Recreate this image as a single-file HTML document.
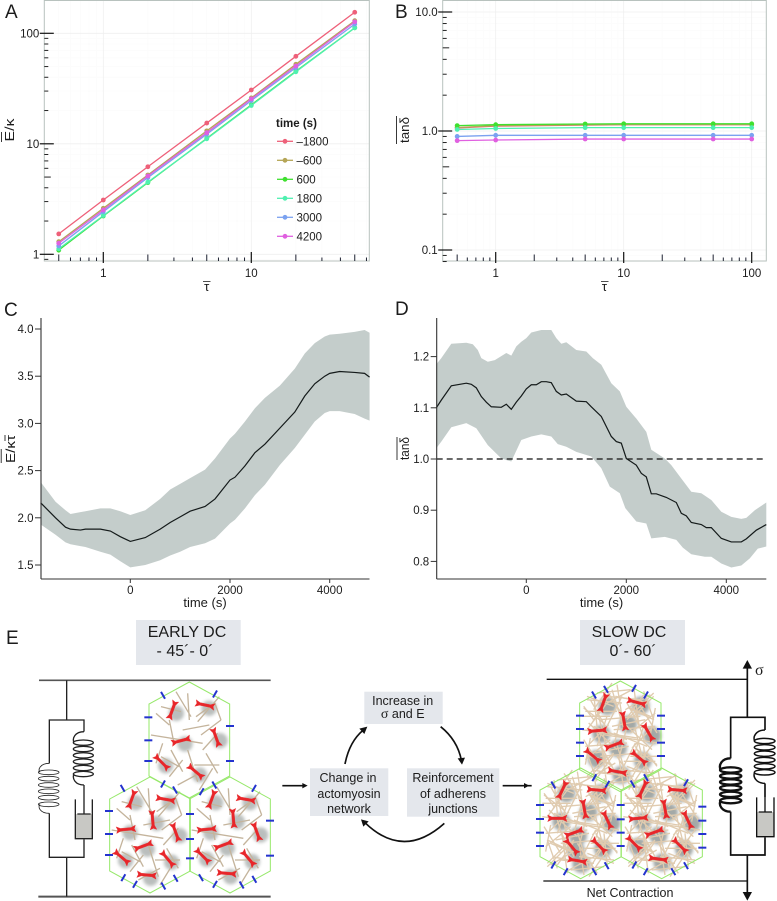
<!DOCTYPE html>
<html lang="en">
<head>
<meta charset="utf-8">
<title>Tissue mechanics figure</title>
<style>
html,body{margin:0;padding:0;background:#fff;}
svg{display:block;font-family:"Liberation Sans",sans-serif;}
text{fill:#1c1c1c;}
</style>
</head>
<body>
<svg id="figure" xmlns="http://www.w3.org/2000/svg" width="777" height="901" viewBox="0 0 777 901">
<defs>
<filter id="blur" x="-60%" y="-60%" width="220%" height="220%"><feGaussianBlur stdDeviation="5"/></filter>
<path id="early-filaments" fill="none" stroke="#c4b49c" stroke-width="4" d="M-85-100L-25-85M-40-145L5-70M-5-140L0-60M20-70L75-110M25-55L90-130M75-115L95-60M-115-15L40 10M-60-60L-45 15M-20-30L60-45M35-15L95-60M40 30L85-20M-55 30L-20 95M-85 50L-30 80M-20 60L-60 110M15 75L90 75M50 40L85 100M-35 135L30 100M-5 30L25 125M70 85L30 150M-100-80L-60-45M-80 10L-100 70"/>
<path id="slow-filaments" fill="none" stroke="#e0cbaf" stroke-width="4" d="M-100-120L-20-90M-50-150L10-60M-10-155L5-60M15-80L90-125M20-50L100-130M70-135L100-50M-115-20L50 5M-70-80L-45 20M-25-30L75-50M30-10L105-70M35 35L95-25M-60 25L-20 100M-100 50L-25 85M-20 55L-70 125M10 75L105 75M45 30L90 110M-45 145L40 100M-10 25L25 140M80 80L25 160M-110-85L-50-40M-90 5L-105 85M-80-130L-70-30M-115-60L-30-60M-40-120L60-110M40-150L55-40M-20-10L80 30M-105 30L20 20M-60 60L60 50M-30 140L70 130M-85 100L15 120M60-90L110-10M-95-40L-10 40M5-120L-45-20M70-30L40 60M100 20L40 100M-30 85L-90 60M-5 100L100 110M-70-10L-40 90M20-30L-5 70M80 50L110 90M-100 120L-40 60M30 130L85 40"/>
<path id="myosin" fill="#e8262a" stroke="#e8262a" stroke-width="1" stroke-linejoin="round" d="M-29-10L-16-4L16-4L29-10L25 0L29 10L16 4L-16 4L-29 10L-25 0Z"/>
</defs>

<rect x="0" y="0" width="777" height="901" fill="#fff"/>

<g id="layer-charts"></g>

<!-- panel letters -->
<g font-size="19">
<text x="5" y="18">A</text>
<text x="395" y="18">B</text>
<text x="4" y="316">C</text>
<text x="395" y="315">D</text>
<text x="6" y="644">E</text>
</g>

<!-- axis titles -->
<g font-size="13">
<text x="206.7" y="291" text-anchor="middle">τ</text>
<line x1="203" x2="210.5" y1="281.5" y2="281.5" stroke="#222" stroke-width=".8"/>
<text x="604.5" y="291" text-anchor="middle">τ</text>
<line x1="601" x2="608.5" y1="281.5" y2="281.5" stroke="#222" stroke-width=".8"/>
<text transform="translate(14,130) rotate(-90)" text-anchor="middle" textLength="23" lengthAdjust="spacingAndGlyphs">E/κ</text>
<line x1="1.5" x2="1.5" y1="132" y2="142" stroke="#222" stroke-width=".9"/>
<text transform="translate(409,130) rotate(-90)" text-anchor="middle" textLength="26" lengthAdjust="spacingAndGlyphs">tanδ</text>
<line x1="396.5" x2="396.5" y1="116" y2="144" stroke="#222" stroke-width=".9"/>
<text transform="translate(15,449) rotate(-90)" text-anchor="middle" textLength="28" lengthAdjust="spacingAndGlyphs">E/κτ</text>
<line x1="1.2" x2="1.2" y1="449" y2="463" stroke="#222" stroke-width=".9"/>
<line x1="5" x2="5" y1="435" y2="441" stroke="#222" stroke-width=".9"/>
<text transform="translate(409,448.5) rotate(-90)" text-anchor="middle" textLength="23" lengthAdjust="spacingAndGlyphs">tanδ</text>
<line x1="397" x2="397" y1="437" y2="460" stroke="#222" stroke-width=".9"/>
<text x="205" y="607" text-anchor="middle">time (s)</text>
<text x="601.5" y="607" text-anchor="middle">time (s)</text>
</g>

<!-- panel E labels and boxes -->
<g>
<rect x="136" y="620" width="104.7" height="45" fill="#e4e7ec"/>
<text x="187" y="637" font-size="16" text-anchor="middle">EARLY DC</text>
<text x="185" y="656" font-size="16" text-anchor="middle">- 45´- 0´</text>
<rect x="580" y="620" width="105" height="45" fill="#e4e7ec"/>
<text x="629" y="637" font-size="16" text-anchor="middle">SLOW DC</text>
<text x="633" y="656" font-size="16" text-anchor="middle">0´- 60´</text>

<rect x="364.3" y="691.7" width="78.4" height="32.3" fill="#e4e7ec"/>
<text x="402.7" y="705" font-size="12.5" text-anchor="middle">Increase in</text>
<text x="402.7" y="718" font-size="12.5" text-anchor="middle"><tspan font-family="Liberation Serif" font-size="14">σ</tspan> and E</text>
<rect x="310" y="768.3" width="78.3" height="47.7" fill="#e4e7ec"/>
<text x="348" y="782" font-size="12.5" text-anchor="middle">Change in</text>
<text x="349" y="798" font-size="12.5" text-anchor="middle">actomyosin</text>
<text x="349" y="813" font-size="12.5" text-anchor="middle">network</text>
<rect x="407" y="768.3" width="92.3" height="48.4" fill="#e4e7ec"/>
<text x="453" y="782" font-size="12.5" text-anchor="middle">Reinforcement</text>
<text x="453" y="798" font-size="12.5" text-anchor="middle">of adherens</text>
<text x="453" y="813" font-size="12.5" text-anchor="middle">junctions</text>

<text x="630" y="897" font-size="12.5" text-anchor="middle">Net Contraction</text>
<text x="755" y="675" font-size="16" font-family="Liberation Serif" text-anchor="start">σ</text>
</g>

<!-- cycle arrows -->
<g transform="translate(270,660) scale(.33333)" fill="none" stroke="#111" stroke-width="5">
<path d="M225 312Q238 245 280 210"/>
<path fill="#111" stroke="none" d="M292 200L283 222L268 206Z"/>
<path d="M512 200Q562 240 574 300"/>
<path fill="#111" stroke="none" d="M576 314L563 295L585 293Z"/>
<path d="M523 490Q400 600 285 488"/>
<path fill="#111" stroke="none" d="M273 478L296 484L280 500Z"/>
<path d="M37 377L100 377"/>
<path fill="#111" stroke="none" d="M113 377L97 369L97 385Z"/>
<path d="M698 377L785 377"/>
<path fill="#111" stroke="none" d="M778 377L762 369L762 385Z"/>
</g>

<!-- left mechanical model -->
<g transform="translate(0,610) scale(.33333)" fill="none" stroke="#222" stroke-width="4">
<path stroke="#555" stroke-width="5" d="M117 211L812 211"/>
<path stroke="#555" stroke-width="6" d="M115 860L812 860"/>
<path d="M200 211L200 330M148 460L148 330L252 330L252 365M148 610L148 742L252 742L252 688M200 742L200 860M252 525L252 570"/>
<g stroke-width="2.5">
<path d="M148 460C120 460 112 480 120 487M148 610C120 610 112 590 120 583"/>
<ellipse cx="146" cy="487" rx="31" ry="7"/>
<ellipse cx="146" cy="506" rx="31" ry="7"/>
<ellipse cx="146" cy="525" rx="31" ry="7"/>
<ellipse cx="146" cy="544" rx="31" ry="7"/>
<ellipse cx="146" cy="563" rx="31" ry="7"/>
<ellipse cx="146" cy="583" rx="31" ry="7"/>
</g>
<g stroke-width="4">
<path d="M252 365C225 365 216 385 222 398M252 525C225 525 216 505 222 492"/>
<ellipse cx="250" cy="398" rx="30" ry="8"/>
<ellipse cx="250" cy="417" rx="30" ry="8"/>
<ellipse cx="250" cy="436" rx="30" ry="8"/>
<ellipse cx="250" cy="455" rx="30" ry="8"/>
<ellipse cx="250" cy="474" rx="30" ry="8"/>
<ellipse cx="250" cy="492" rx="30" ry="8"/>
</g>
<g>
<rect x="226" y="612" width="51" height="74" fill="#c8c8c4" stroke="none"/>
<path d="M226 568L226 686L277 686L277 568M252 570L252 612M232 612L272 612"/>
</g>
</g>

<!-- right mechanical model -->
<g transform="translate(500,610) scale(.33333)" fill="none" stroke="#111" stroke-width="4">
<path stroke-width="4" d="M140 208L742 208"/>
<path stroke="#555" stroke-width="5" d="M130 813L742 813"/>
<path stroke-width="5" d="M742 165L742 322M692 445L692 322L795 322L795 360M692 605L692 735L795 735L795 682M742 735L742 850M795 520L795 562"/>
<path fill="#111" stroke="none" d="M742 150L728 176L756 176Z"/>
<path fill="#111" stroke="none" d="M742 872L728 846L756 846Z"/>
<g stroke-width="7">
<path d="M692 445C665 445 655 465 662 480M692 605C665 605 655 585 662 572"/>
<ellipse cx="692" cy="480" rx="32" ry="8"/>
<ellipse cx="692" cy="498" rx="32" ry="8"/>
<ellipse cx="692" cy="516" rx="32" ry="8"/>
<ellipse cx="692" cy="534" rx="32" ry="8"/>
<ellipse cx="692" cy="553" rx="32" ry="8"/>
<ellipse cx="692" cy="572" rx="32" ry="8"/>
</g>
<g stroke-width="4.5">
<path d="M795 360C768 360 758 380 764 393M795 520C768 520 758 500 764 487"/>
<ellipse cx="794" cy="393" rx="31" ry="8"/>
<ellipse cx="794" cy="412" rx="31" ry="8"/>
<ellipse cx="794" cy="431" rx="31" ry="8"/>
<ellipse cx="794" cy="450" rx="31" ry="8"/>
<ellipse cx="794" cy="469" rx="31" ry="8"/>
<ellipse cx="794" cy="487" rx="31" ry="8"/>
</g>
<g>
<rect x="770" y="606" width="52" height="74" fill="#c8c8c4" stroke="none"/>
<path d="M770 562L770 680L822 680L822 562M795 562L795 606M776 606L816 606"/>
</g>
</g>

<g id="early-cells" transform="translate(0,610) scale(.33333)"></g>
<g id="slow-cells" transform="translate(500,610) scale(.33333)"></g>
</svg>

<script>
// ---------- Panel A data ----------
const tauA = [0.5, 1, 2, 5, 10, 20, 50];
const modulusM1800 = [1.53, 3.1, 6.2, 15.4, 30.7, 61.9, 155];
const modulusM600 = [1.30, 2.61, 5.22, 13.1, 26, 52.4, 130];
const modulus600 = [1.09, 2.22, 4.45, 11.2, 22.5, 45.3, 112];
const modulus1800 = [1.12, 2.24, 4.5, 11.1, 22.2, 44.8, 112];
const modulus3000 = [1.19, 2.43, 4.94, 12.2, 24.6, 48.9, 121];
const modulus4200 = [1.26, 2.52, 5.11, 12.6, 25.5, 50.6, 127];

// ---------- Panel B data ----------
const tauB = [0.5, 1, 5, 10, 50, 100];
const tanM1800 = [1.06, 1.10, 1.12, 1.13, 1.13, 1.13];
const tanM600 = [1.07, 1.11, 1.13, 1.135, 1.135, 1.135];
const tan600 = [1.11, 1.13, 1.145, 1.15, 1.15, 1.15];
const tan1800 = [1.03, 1.05, 1.067, 1.067, 1.067, 1.067];
const tan3000 = [0.90, 0.92, 0.92, 0.92, 0.92, 0.92];
const tan4200 = [0.83, 0.84, 0.856, 0.856, 0.856, 0.856];

const seriesLabels = ['–1800', '–600', '600', '1800', '3000', '4200'];
const seriesColors = ['#ee6079', '#b5a556', '#3fe02f', '#4ff0b0', '#7ba2f0', '#e060e0'];

// ---------- Tick labels ----------
const ticksAX = [1, 10];
const ticksAY = [1, 10, 100];
const ticksBX = [1, 10, 100];
const ticksBY = [0.1, 1, 10];
const ticksTime = [0, 2000, 4000];
const ticksCY = [1.5, 2, 2.5, 3, 3.5, 4];
const ticksDY = [0.8, 0.9, 1, 1.1, 1.2];

// ---------- Panel C data ----------
const timeC = [-1800,-1500,-1300,-1200,-1000,-900,-600,-400,-200,0,300,600,800,1000,1200,1500,1700,2000,2100,2300,2500,2700,3000,3300,3500,3700,3900,4000,4200,4500,4700,4800];
const meanC = [2.16,2.00,1.90,1.88,1.87,1.88,1.88,1.86,1.80,1.75,1.79,1.88,1.95,2.01,2.07,2.12,2.20,2.40,2.43,2.55,2.69,2.78,2.95,3.12,3.29,3.42,3.50,3.53,3.55,3.54,3.53,3.49];
const upperC = [2.38,2.17,2.08,2.04,2.06,2.07,2.10,2.10,2.07,2.03,2.08,2.20,2.30,2.36,2.42,2.51,2.63,2.84,2.89,3.02,3.16,3.27,3.40,3.58,3.74,3.85,3.92,3.94,3.95,3.97,3.99,3.96];
const lowerC = [1.93,1.82,1.74,1.72,1.70,1.69,1.64,1.61,1.54,1.475,1.50,1.55,1.60,1.64,1.69,1.73,1.78,1.94,1.98,2.10,2.24,2.35,2.56,2.74,2.88,3.02,3.11,3.13,3.13,3.10,3.05,3.03];

// ---------- Panel D data ----------
const timeD = [-1800,-1700,-1500,-1200,-1100,-1000,-900,-800,-700,-500,-400,-300,-200,-100,0,100,200,300,400,500,600,700,800,1000,1200,1300,1500,1700,1800,1900,2000,2200,2300,2400,2500,2600,2800,3000,3100,3200,3300,3500,3600,3700,3900,4100,4300,4400,4600,4800];
const meanD = [1.100,1.115,1.143,1.148,1.146,1.139,1.122,1.111,1.102,1.101,1.107,1.097,1.111,1.123,1.137,1.145,1.145,1.151,1.151,1.149,1.132,1.125,1.127,1.113,1.112,1.102,1.083,1.044,1.034,1.031,1.001,0.988,0.972,0.965,0.932,0.932,0.925,0.915,0.894,0.889,0.876,0.872,0.866,0.866,0.845,0.838,0.838,0.844,0.861,0.872];
const upperTimeD = [-1800,-1700,-1500,-1200,-1070,-970,-900,-770,-630,-400,-300,-200,-100,0,100,300,500,600,700,800,1000,1200,1330,1500,1700,1870,2000,2200,2400,2500,2770,2900,3100,3300,3500,3700,3900,4100,4300,4400,4570,4800];
const upperD = [1.185,1.197,1.225,1.227,1.224,1.213,1.197,1.190,1.193,1.207,1.202,1.220,1.229,1.236,1.247,1.252,1.252,1.236,1.225,1.228,1.213,1.210,1.197,1.184,1.148,1.132,1.102,1.079,1.053,1.018,1.001,0.988,0.962,0.936,0.933,0.920,0.897,0.887,0.883,0.885,0.900,0.915];
const lowerTimeD = [-1800,-1700,-1500,-1200,-1000,-770,-500,-300,-100,100,300,500,630,800,1000,1300,1500,1670,1870,1980,2200,2400,2500,2770,3000,3130,3300,3570,3700,3900,4100,4300,4470,4630,4800];
const lowerD = [1.021,1.034,1.062,1.070,1.060,1.027,1.001,0.995,1.037,1.044,1.048,1.044,1.029,1.024,1.014,1.005,0.982,0.946,0.933,0.904,0.878,0.874,0.845,0.848,0.842,0.827,0.814,0.809,0.809,0.796,0.788,0.792,0.806,0.825,0.829];
const referenceD = 1.0;

// ---------- Axis functions ----------
const log10 = Math.log10;
const xA = t => 103.3 + 148 * log10(t);
const yA = v => 254.3 - 110.5 * log10(v);
const xB = t => 495.7 + 128 * log10(t);
const yB = v => 131 - 119 * log10(v);
const xC = t => 130.3 + 0.04985 * t;
const yC = v => 565 - (v - 1.5) * 94.4;
const xD = t => 526.3 + 0.05 * t;
const yD = v => 459 - (v - 1) * 512;

const NS = 'http://www.w3.org/2000/svg';
const charts = document.getElementById('layer-charts');

function make(parent, tag, attrs, name) {
  const node = document.createElementNS(NS, tag);
  for (const k in attrs) node.setAttribute(k, attrs[k]);
  
  
  parent.appendChild(node);
  return node;
}
function label(parent, x, y, str, anchor, size, name, weight) {
  const t = make(parent, 'text', {x: x, y: y, 'text-anchor': anchor, 'font-size': size, 'font-weight': weight || 'normal'}, name);
  t.textContent = str;
  return t;
}
function seg(parent, x1, y1, x2, y2, color, w, name) {
  return make(parent, 'line', {x1: x1, y1: y1, x2: x2, y2: y2, stroke: color, 'stroke-width': w}, name);
}
function poly(xs, ys) {
  return xs.map((x, i) => x.toFixed(2) + ',' + ys[i].toFixed(2)).join(' ');
}

// ---------- Log panels A and B ----------
function logPanel(cfg) {
  const g = make(charts, 'g', {}, cfg.id);
  make(g, 'rect', {x: cfg.left, y: 0.5, width: cfg.right - cfg.left, height: cfg.bottom - 0.5, fill: '#fff', stroke: 'none'}, cfg.id + '-plot-area');
  const grid = make(g, 'g', {}, cfg.id + '-grid');
  cfg.xMinor.forEach(v => seg(grid, cfg.x(v), 0, cfg.x(v), cfg.bottom, '#fbfbfb', 0.7, 'grid-line-x-minor'));
  cfg.yMinor.forEach(v => seg(grid, cfg.left, cfg.y(v), cfg.right, cfg.y(v), '#fbfbfb', 0.7, 'grid-line-y-minor'));
  cfg.xTicks.forEach(v => seg(grid, cfg.x(v), 0, cfg.x(v), cfg.bottom, '#efefef', 0.8, 'grid-line-x'));
  cfg.yTicks.forEach(v => seg(grid, cfg.left, cfg.y(v), cfg.right, cfg.y(v), '#efefef', 0.8, 'grid-line-y'));
  make(g, 'rect', {x: cfg.left, y: 0.5, width: cfg.right - cfg.left, height: cfg.bottom - 0.5, fill: 'none', stroke: '#b8c2be', 'stroke-width': 1}, cfg.id + '-frame');

  cfg.series.forEach((vals, i) => {
    const s = make(g, 'g', {}, cfg.id + '-series-' + seriesLabels[i]);
    const xs = cfg.taus.map(cfg.x), ys = vals.map(cfg.y);
    make(s, 'polyline', {points: poly(xs, ys), fill: 'none', stroke: seriesColors[i], 'stroke-width': 1.3}, 'series-line');
    xs.forEach((x, j) => make(s, 'circle', {cx: x, cy: ys[j], r: 2.4, fill: seriesColors[i]}, 'series-point'));
  });

  const axes = make(g, 'g', {}, cfg.id + '-axes');
  cfg.xMinor.forEach(v => {
    const mid = [0.5, 5, 50, 2, 20].indexOf(v) >= 0;
    seg(axes, cfg.x(v), mid ? 254.5 : 257.5, cfg.x(v), cfg.bottom, '#1c2030', 1, 'x-minor-tick');
  });
  cfg.yMinor.forEach(v => {
    const s = String(v);
    const mid = s[s.length - 1] === '5' || s === '0.5';
    seg(axes, cfg.left, cfg.y(v), cfg.left + (mid ? 6.5 : 4), cfg.y(v), '#222', 1, 'y-minor-tick');
  });
  cfg.xTicks.forEach(v => {
    seg(axes, cfg.x(v), 252, cfg.x(v), 263, '#111', 1.2, 'x-major-tick');
    label(axes, cfg.x(v), 277, String(v), 'middle', 11.5, 'x-tick-label');
  });
  cfg.yTicks.forEach(v => {
    seg(axes, cfg.left - 4.5, cfg.y(v), cfg.left + 9.5, cfg.y(v), '#111', 1.2, 'y-major-tick');
    label(axes, cfg.left - 5, cfg.y(v) + 4, cfg.fmt(v), 'end', 11.5, 'y-tick-label');
  });
}

logPanel({
  id: 'panel-a', left: 44.3, right: 369.3, bottom: 261,
  x: xA, y: yA, taus: tauA, xTicks: ticksAX, yTicks: ticksAY,
  xMinor: [0.5,0.6,0.7,0.8,0.9,2,3,4,5,6,7,8,9,20,30,40,50,60],
  yMinor: [0.9,2,3,4,5,6,7,8,9,20,30,40,50,60,70,80,90],
  fmt: v => String(v),
  series: [modulusM1800, modulusM600, modulus600, modulus1800, modulus3000, modulus4200]
});
logPanel({
  id: 'panel-b', left: 442.7, right: 766.3, bottom: 261,
  x: xB, y: yB, taus: tauB, xTicks: ticksBX, yTicks: ticksBY,
  xMinor: [0.5,0.6,0.7,0.8,0.9,2,3,4,5,6,7,8,9,20,30,40,50,60,70,80,90],
  yMinor: [0.09,0.08,0.2,0.3,0.4,0.5,0.6,0.7,0.8,0.9,2,3,4,5,6,7,8,9],
  fmt: v => v.toFixed(1),
  series: [tanM1800, tanM600, tan600, tan1800, tan3000, tan4200]
});

// legend
const legend = make(charts, 'g', {}, 'legend');
label(legend, 276, 127, 'time (s)', 'start', 11.5, 'legend-title', 'bold');
seriesLabels.forEach((lab, i) => {
  const ly = 141.3 + i * 19;
  const entry = make(legend, 'g', {}, 'legend-entry-' + lab);
  seg(entry, 277, ly, 293, ly, seriesColors[i], 1.3, 'legend-line');
  make(entry, 'circle', {cx: 285, cy: ly, r: 2.4, fill: seriesColors[i]}, 'legend-point');
  label(entry, 296.5, ly + 4, lab, 'start', 11.5, 'legend-label');
});

// ---------- Band panels C and D ----------
function bandPanel(cfg) {
  const g = make(charts, 'g', {}, cfg.id);
  const bx = cfg.upT.map(cfg.x).concat(cfg.loT.map(cfg.x).reverse());
  const by = cfg.up.map(cfg.y).concat(cfg.lo.map(cfg.y).reverse());
  make(g, 'polygon', {points: poly(bx, by), fill: '#c4cdcb'}, cfg.id + '-confidence-band');
  if (cfg.ref !== undefined) {
    make(g, 'line', {x1: cfg.left, x2: cfg.right, y1: cfg.y(cfg.ref), y2: cfg.y(cfg.ref), stroke: '#111', 'stroke-width': 1.3, 'stroke-dasharray': '6 4'}, cfg.id + '-reference-line');
  }
  make(g, 'polyline', {points: poly(cfg.t.map(cfg.x), cfg.mean.map(cfg.y)), fill: 'none', stroke: '#141a1a', 'stroke-width': 1.2}, cfg.id + '-mean-line');
  const axes = make(g, 'g', {}, cfg.id + '-axes');
  seg(axes, cfg.left, 318, cfg.left, 579, '#333', 1.1, 'y-axis-line');
  seg(axes, cfg.left, 579, cfg.right, 579, '#333', 1.1, 'x-axis-line');
  ticksTime.forEach(v => {
    seg(axes, cfg.x(v), 579, cfg.x(v), 583, '#333', 1, 'x-tick');
    label(axes, cfg.x(v), 594, String(v), 'middle', 11.5, 'x-tick-label');
  });
  cfg.yTicks.forEach(v => {
    seg(axes, cfg.left - 6, cfg.y(v), cfg.left, cfg.y(v), '#333', 1, 'y-tick');
    label(axes, cfg.left - 7.5, cfg.y(v) + 4, v.toFixed(1), 'end', 11.5, 'y-tick-label');
  });
}
bandPanel({id: 'panel-c', left: 41, right: 369.5, x: xC, y: yC, t: timeC, mean: meanC, upT: timeC, up: upperC, loT: timeC, lo: lowerC, yTicks: ticksCY});
bandPanel({id: 'panel-d', left: 436.7, right: 766.3, x: xD, y: yD, t: timeD, mean: meanD, upT: upperTimeD, up: upperD, loT: lowerTimeD, lo: lowerD, yTicks: ticksDY, ref: referenceD});

// ---------- Panel E cells (schematic, not a chart) ----------
const earlyCellCenters = [[568,390],[450,675],[690,675]];
const slowCellCenters = [[361,379],[242,640],[485,640]];
const hexPoints = '0,-174 121,-108 121,108 0,174 -121,108 -121,-108';
const slowHexPoints = '0,-166 122,-100 122,100 0,166 -122,100 -122,-100';

const earlyMyosins = [[517,300,-70],[615,285,12],[543,392,-15],[648,382,70],[485,457,45],[587,485,40],[395,568,-70],[497,568,10],[458,630,85],[378,658,-5],[430,708,-20],[527,667,70],[365,742,40],[503,747,50],[440,795,5],[635,568,-70],[738,568,10],[700,625,85],[620,658,-5],[670,705,-20],[770,665,70],[608,738,45],[745,745,50],[680,790,5]];
const slowMyosins = [[310,278,-70],[410,277,15],[372,333,80],[292,362,-5],[342,405,-20],[445,367,60],[278,437,40],[417,443,40],[352,485,10],[187,540,-65],[290,540,5],[253,597,80],[172,625,0],[222,668,-20],[322,630,65],[215,710,50],[297,707,45],[232,752,10],[428,538,-65],[532,540,5],[495,597,80],[415,625,-5],[463,667,-20],[563,630,65],[402,700,45],[540,707,45],[475,747,8]];

const earlyJunctions = [[489,256,60],[645,252,-60],[445,322,0],[445,391,0],[445,453,0],[690,348,0],[690,453,0],[489,522,-60],[643,525,60],[605,545,-60],[368,535,60],[525,540,60],[327,603,0],[327,672,0],[327,735,0],[570,612,0],[570,687,0],[570,745,0],[370,803,-60],[405,823,-60],[490,828,60],[527,805,60],[762,535,-60],[810,632,0],[810,737,0],[603,803,60],[645,823,-60],[725,825,60],[763,808,60]];
const slowJunctions = [[282,255,60],[318,238,60],[402,235,-60],[438,255,-60],[240,317,0],[240,357,0],[240,398,0],[240,438,0],[483,317,0],[483,357,0],[483,398,0],[483,438,0],[283,503,-60],[322,523,-60],[398,522,60],[438,503,60],[160,525,60],[120,585,0],[120,627,0],[120,668,0],[120,708,0],[160,765,-60],[197,785,-60],[283,785,60],[320,767,60],[362,585,0],[362,628,0],[362,668,0],[362,708,0],[558,518,-60],[607,590,0],[607,632,0],[607,672,0],[607,713,0],[403,765,-60],[437,785,-60],[520,785,60],[558,767,60]];

function buildCells(parentId, centers, hex, fil, myosins, junctions, blobOpacity, blobR, doubled) {
  const root = document.getElementById(parentId);
  const blobs = make(root, 'g', {filter: 'url(#blur)', fill: '#8d9492', opacity: blobOpacity}, 'actomyosin-shading');
  myosins.forEach(m => {
    make(blobs, 'circle', {cx: m[0] + 12, cy: m[1] + 10, r: blobR}, 'myosin-shadow');
  });
  centers.forEach(c => {
    make(root, 'use', {href: fil, transform: 'translate(' + c[0] + ',' + c[1] + ')'}, 'actin-filaments');
    if (doubled) {
      make(root, 'use', {href: fil, transform: 'translate(' + c[0] + ',' + c[1] + ') rotate(180)'}, 'actin-filaments-extra');
    }
  });
  centers.forEach(c => {
    make(root, 'polygon', {points: hex, transform: 'translate(' + c[0] + ',' + c[1] + ')', fill: 'none', stroke: '#96e86a', 'stroke-width': 3}, 'cell-outline');
  });
  junctions.forEach(j => {
    make(root, 'rect', {x: -12, y: -3, width: 24, height: 6, fill: '#2433cf', transform: 'translate(' + j[0] + ',' + j[1] + ') rotate(' + j[2] + ')'}, 'adherens-junction');
  });
  myosins.forEach(m => {
    make(root, 'use', {href: '#myosin', transform: 'translate(' + m[0] + ',' + m[1] + ') rotate(' + m[2] + ')'}, 'myosin-motor');
  });
}
buildCells('early-cells', earlyCellCenters, hexPoints, '#early-filaments', earlyMyosins, earlyJunctions, 0.6, 23, false);
buildCells('slow-cells', slowCellCenters, slowHexPoints, '#slow-filaments', slowMyosins, slowJunctions, 0.8, 27, true);
</script>
</body>
</html>
